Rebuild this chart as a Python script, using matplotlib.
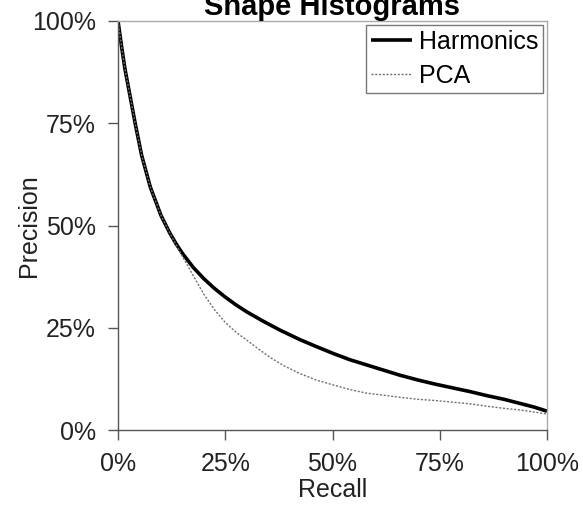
import matplotlib
matplotlib.use("Agg")
import matplotlib.pyplot as plt
from matplotlib.ticker import FuncFormatter

plt.rcParams["font.family"] = ["Liberation Sans", "DejaVu Sans"]

# precision/recall curves (percent)
harm_recall = [0, 0.8, 1.6, 4.0, 5.5, 7.5, 10, 12.1, 13.5, 15, 17.5, 20, 22.5,
               25, 27.5, 30, 33.5, 37.8, 42.4, 46, 50.2, 54, 58, 62, 65.7,
               70, 74, 78, 82, 86, 90, 93.7, 97, 100]
harm_precision = [100, 94, 88.4, 75, 67.2, 59.5, 52.5, 48.1, 45.6, 43.2, 39.8,
                  37.0, 34.6, 32.5, 30.6, 28.9, 26.8, 24.4, 22.1, 20.5, 18.7,
                  17.2, 15.9, 14.6, 13.4, 12.2, 11.2, 10.3, 9.4, 8.4, 7.5,
                  6.5, 5.6, 4.6]

pca_recall = [0, 0.8, 1.6, 4.0, 5.5, 7.5, 10, 12.1, 13.5, 15, 17.5, 20, 22.5,
              25, 27.5, 30, 32.5, 35.4, 38.5, 42.4, 46, 50.2, 54, 58, 62,
              65.7, 70, 74, 78, 82, 86, 90, 93.7, 97, 100]
pca_precision = [100, 94, 88.4, 75, 67.2, 59.5, 52.5, 48.1, 45.4, 42.5, 37.8,
                 33.2, 29.4, 26.3, 23.9, 22.0, 20.0, 17.8, 15.8, 13.8, 12.3,
                 11.0, 9.9, 9.0, 8.5, 8.0, 7.5, 7.2, 6.8, 6.4, 5.8, 5.3, 4.9,
                 4.4, 3.9]

ticks = [0, 25, 50, 75, 100]

fig = plt.figure(figsize=(5.83, 5.09), dpi=100)
ax = fig.add_axes([118 / 583, 1 - 430 / 509, 429 / 583, 409 / 509])

ax.plot(harm_recall, harm_precision, color="black", lw=2.6,
        label="Harmonics", solid_capstyle="butt")
ax.plot(pca_recall, pca_precision, color="#707070", lw=1.0,
        linestyle=(0, (1.5, 1.2)), label="PCA")

ax.set_xlim(0, 100)
ax.set_ylim(0, 100)
ax.set_xticks(ticks)
ax.set_yticks(ticks)
pct = FuncFormatter(lambda v, _: f"{v:.0f}%")
ax.xaxis.set_major_formatter(pct)
ax.yaxis.set_major_formatter(pct)

for side in ("left", "bottom"):
    ax.spines[side].set_color("#555555")
    ax.spines[side].set_linewidth(1.0)
for side in ("top", "right"):
    ax.spines[side].set_color("#aaaaaa")
    ax.spines[side].set_linewidth(1.0)

ax.tick_params(direction="out", length=7, width=1, color="#555555",
               labelsize=18, labelcolor="#222222")
ax.tick_params(axis="x", pad=9)
ax.tick_params(axis="y", pad=9)

ax.set_xlabel("Recall", fontsize=18, color="#222222", labelpad=1)
ax.set_ylabel("Precision", fontsize=18, color="#222222")
ax.yaxis.set_label_coords(-0.18, 0.5)

ax.set_title("Shape Histograms", fontsize=21, fontweight="bold", pad=4)

leg = ax.legend(loc="upper right", fontsize=18, frameon=True, fancybox=False,
                borderaxespad=0.16, handlelength=1.65, handletextpad=0.25,
                borderpad=0.2, labelspacing=0.4)
leg.get_frame().set_edgecolor("#555555")
leg.get_frame().set_linewidth(1.0)

fig.savefig("out.png", dpi=100)
